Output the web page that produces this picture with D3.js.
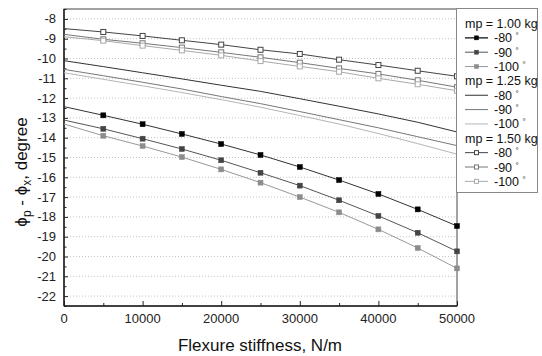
<!DOCTYPE html>
<html>
<head>
<meta charset="utf-8">
<script src="https://cdn.jsdelivr.net/npm/d3@7"></script>
<style>
  body { margin: 0; background: #fff; }
  text { font-family: Arial, "Liberation Sans", sans-serif; }
</style>
</head>
<body>
<div id="chart"></div>
<script>
// Flexure stiffness (N/m)
const stiffness = [0, 5000, 10000, 15000, 20000, 25000, 30000, 35000, 40000, 45000, 50000]

// mp = 1.00 kg
const m100_80 = [-12.43, -12.87, -13.32, -13.81, -14.32, -14.87, -15.48, -16.14, -16.84, -17.62, -18.46]
const m100_90 = [-13.11, -13.55, -14.05, -14.57, -15.14, -15.77, -16.42, -17.16, -17.95, -18.80, -19.74]
const m100_100 = [-13.31, -13.90, -14.42, -14.98, -15.60, -16.27, -17.00, -17.77, -18.63, -19.57, -20.60]

// mp = 1.25 kg
const m125_80 = [-10.11, -10.41, -10.72, -11.03, -11.35, -11.66, -12.03, -12.41, -12.80, -13.22, -13.71]
const m125_90 = [-10.55, -10.87, -11.20, -11.54, -11.92, -12.28, -12.68, -13.09, -13.50, -13.95, -14.40]
const m125_100 = [-10.72, -11.05, -11.38, -11.72, -12.08, -12.46, -12.88, -13.31, -13.79, -14.30, -14.83]

// mp = 1.50 kg
const m150_80 = [-8.49, -8.66, -8.86, -9.08, -9.30, -9.56, -9.77, -10.06, -10.33, -10.62, -10.90]
const m150_90 = [-8.78, -9.03, -9.23, -9.45, -9.69, -9.94, -10.21, -10.50, -10.78, -11.10, -11.45]
const m150_100 = [-8.90, -9.10, -9.35, -9.59, -9.84, -10.13, -10.40, -10.67, -11.00, -11.30, -11.63]

const xTicks = [0, 10000, 20000, 30000, 40000, 50000]
const yTicks = [-8, -9, -10, -11, -12, -13, -14, -15, -16, -17, -18, -19, -20, -21, -22]

const groups = [
    { title: 'mp = 1.00 kg', items: [
        { label: '-80', values: m100_80, line: '#333', marker: 'filled', mColor: '#000' },
        { label: '-90', values: m100_90, line: '#555', marker: 'filled', mColor: '#444' },
        { label: '-100', values: m100_100, line: '#999', marker: 'filled', mColor: '#8c8c8c' }
    ]},
    { title: 'mp = 1.25 kg', items: [
        { label: '-80', values: m125_80, line: '#333', marker: null },
        { label: '-90', values: m125_90, line: '#777', marker: null },
        { label: '-100', values: m125_100, line: '#b5b5b5', marker: null }
    ]},
    { title: 'mp = 1.50 kg', items: [
        { label: '-80', values: m150_80, line: '#444', marker: 'open', mColor: '#444' },
        { label: '-90', values: m150_90, line: '#777', marker: 'open', mColor: '#777' },
        { label: '-100', values: m150_100, line: '#aaa', marker: 'open', mColor: '#aaa' }
    ]}
]

const dimensions = { width: 542, height: 356 }
const plot = { left: 64, right: 457, top: 9, bottom: 306 }

const svg = d3.select('#chart')
    .append('svg')
    .attr('width', dimensions.width)
    .attr('height', dimensions.height)

const x = d3.scaleLinear().domain([0, 50000]).range([plot.left, plot.right])
const y = d3.scaleLinear().domain([-22.5, -7.5]).range([plot.bottom, plot.top])

// dotted grid
svg.append('g')
    .selectAll('line')
    .data(yTicks)
    .join('line')
    .attr('x1', plot.left)
    .attr('x2', plot.right)
    .attr('y1', d => y(d))
    .attr('y2', d => y(d))
    .attr('stroke', '#c4c4c4')
    .attr('stroke-dasharray', '1,2')

// frame (top and right)
svg.append('rect')
    .attr('x', plot.left)
    .attr('y', plot.top)
    .attr('width', plot.right - plot.left)
    .attr('height', plot.bottom - plot.top)
    .attr('fill', 'none')
    .attr('stroke', '#444')

// left axis, ticks pointing in
const yAxis = svg.append('g')
    .attr('transform', `translate(${plot.left},0)`)
    .call(d3.axisRight(y).tickValues(d3.range(-22.5, -7.49, 0.5)).tickSize(3).tickFormat(''))
yAxis.select('.domain').remove()
yAxis.selectAll('.tick line')
    .attr('x2', d => Number.isInteger(d) ? 4 : 2.5)
    .attr('stroke', '#222')
svg.append('g')
    .selectAll('text')
    .data(yTicks)
    .join('text')
    .attr('x', plot.left - 8)
    .attr('y', d => y(d) + 4.5)
    .attr('text-anchor', 'end')
    .attr('font-size', 13)
    .attr('fill', '#222')
    .text(d => d)

// bottom axis, ticks pointing in
const xAxis = svg.append('g')
    .attr('transform', `translate(0,${plot.bottom})`)
    .call(d3.axisTop(x).tickValues(d3.range(0, 50001, 5000)).tickFormat(''))
xAxis.select('.domain').remove()
xAxis.selectAll('.tick line')
    .attr('y2', d => d % 10000 === 0 ? -5 : -3)
    .attr('stroke', '#222')
svg.append('g')
    .selectAll('text')
    .data(xTicks)
    .join('text')
    .attr('x', d => x(d))
    .attr('y', plot.bottom + 17)
    .attr('text-anchor', 'middle')
    .attr('font-size', 13)
    .attr('fill', '#222')
    .text(d => d)

// axis lines
svg.append('line')
    .attr('x1', plot.left).attr('x2', plot.left)
    .attr('y1', plot.top).attr('y2', plot.bottom)
    .attr('stroke', '#222').attr('stroke-width', 1.5)
svg.append('line')
    .attr('x1', plot.left).attr('x2', plot.right)
    .attr('y1', plot.bottom).attr('y2', plot.bottom)
    .attr('stroke', '#222').attr('stroke-width', 1.5)

// series
const line = d3.line()
    .x((d, i) => x(stiffness[i]))
    .y(d => y(d))

const series = groups.flatMap(g => g.items)

svg.append('g')
    .selectAll('path')
    .data(series)
    .join('path')
    .attr('d', d => line(d.values))
    .attr('fill', 'none')
    .attr('stroke', d => d.line)
    .attr('stroke-width', 1)

series.filter(s => s.marker).forEach(s => {
    svg.append('g')
        .selectAll('rect')
        .data(s.values.map((v, i) => [stiffness[i], v]).slice(1))
        .join('rect')
        .attr('x', d => x(d[0]) - 2.5)
        .attr('y', d => y(d[1]) - 2.5)
        .attr('width', 5)
        .attr('height', 5)
        .attr('fill', s.marker === 'filled' ? s.mColor : '#fff')
        .attr('stroke', s.mColor)
        .attr('stroke-width', s.marker === 'filled' ? 0.5 : 1)
})

// axis titles
svg.append('text')
    .attr('x', 260)
    .attr('y', 351)
    .attr('text-anchor', 'middle')
    .attr('font-size', 17)
    .attr('fill', '#111')
    .text('Flexure stiffness, N/m')

const yTitle = svg.append('text')
    .attr('transform', 'translate(27,172) rotate(-90)')
    .attr('text-anchor', 'middle')
    .attr('font-size', 17)
    .attr('fill', '#111')
yTitle.append('tspan').text('\u03d5')
yTitle.append('tspan').attr('font-size', 12).attr('dy', 4).text('p')
yTitle.append('tspan').attr('dy', -4).text(' - \u03d5')
yTitle.append('tspan').attr('font-size', 12).attr('dy', 4).text('x')
yTitle.append('tspan').attr('dy', -4).text(', degree')

// legend
const legend = svg.append('g')
legend.append('rect')
    .attr('x', 456.5)
    .attr('y', 8.5)
    .attr('width', 81)
    .attr('height', 184)
    .attr('fill', '#fff')
    .attr('stroke', '#888')

let row = 0
const rowY = r => 23.5 + r * 14.35
groups.forEach(g => {
    legend.append('text')
        .attr('x', 465)
        .attr('y', rowY(row) + 4.5)
        .attr('font-size', 12.5)
        .attr('fill', '#111')
        .text(g.title)
    row++
    g.items.forEach(s => {
        const cy = rowY(row)
        legend.append('line')
            .attr('x1', 465).attr('x2', 488)
            .attr('y1', cy).attr('y2', cy)
            .attr('stroke', s.line)
            .attr('stroke-width', g.title.includes('1.00') && s.label === '-80' ? 1.5 : 1)
        if (s.marker) {
            legend.append('rect')
                .attr('x', 476.5 - 2)
                .attr('y', cy - 2)
                .attr('width', 4)
                .attr('height', 4)
                .attr('fill', s.marker === 'filled' ? s.mColor : '#fff')
                .attr('stroke', s.mColor)
                .attr('stroke-width', s.marker === 'filled' ? 0.5 : 1)
        }
        const t = legend.append('text')
            .attr('x', 494)
            .attr('y', cy + 4.5)
            .attr('font-size', 12.5)
            .attr('fill', '#111')
        t.append('tspan').text(s.label + ' ')
        t.append('tspan').attr('font-size', 8).attr('dy', -4).text('\u00b0')
        row++
    })
})
</script>
</body>
</html>
